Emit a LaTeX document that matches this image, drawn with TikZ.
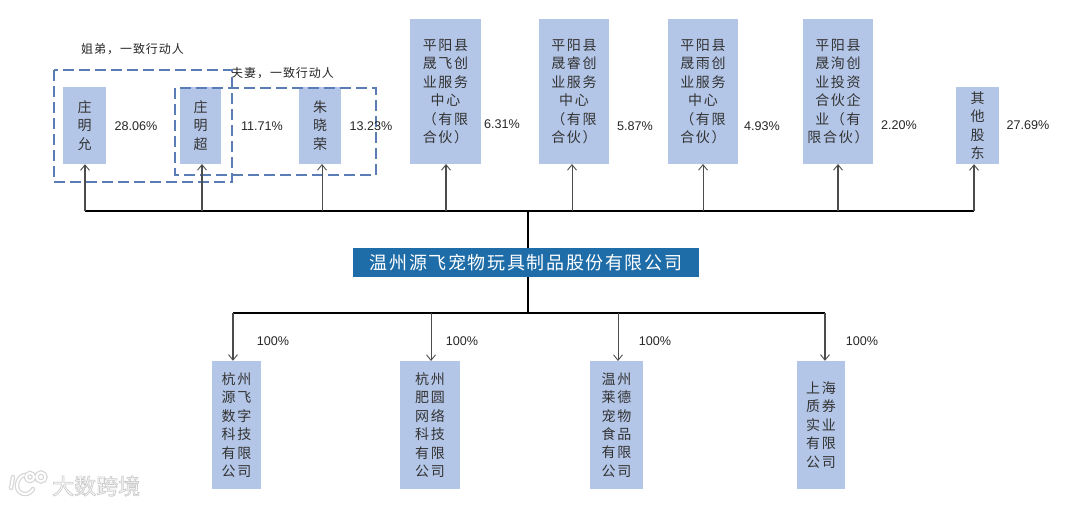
\documentclass[tikz,border=0pt]{standalone}
\usepackage{fontspec}
\setmainfont{Liberation Sans}
\newfontfamily\cjk{Noto Sans CJK SC}
\newfontfamily\cjkbody[LetterSpace=12]{Noto Sans CJK SC}
\newfontfamily\cjkhead[LetterSpace=9]{Noto Sans CJK SC}
\newfontfamily\cjknote[LetterSpace=8]{Noto Sans CJK SC}
\usetikzlibrary{arrows.meta}
\definecolor{boxblue}{HTML}{B4C6E7}
\definecolor{headblue}{HTML}{1F6DA8}
\definecolor{dashblue}{HTML}{5B7DB5}
\tikzset{
 x=1pt,y=-1pt,
 entity/.style={fill=boxblue,draw=none,inner sep=0pt,align=center,font=\cjkbody\fontsize{14}{18.4}\selectfont,text=black!80},
 head/.style={fill=headblue,draw=none,inner sep=0pt,font=\cjkhead\fontsize{18}{20}\selectfont,text=white},
 pct/.style={inner sep=0pt,font=\fontsize{12.6}{15}\selectfont,text=black!85},
 note/.style={inner sep=0pt,anchor=west,font=\cjknote\fontsize{12}{13}\selectfont,text=black!85},
 dashbox/.style={draw=dashblue,line width=1.5pt,dash pattern=on 11pt off 5pt},
 bus/.style={draw=black,line width=1.6pt},
 link/.style={draw=black!70,line width=1.1pt,-{Straight Barb[length=5.5pt,width=9pt,line width=.9pt]}},
 thinlink/.style={link,line width=.8pt},
 wmtext/.style={inner sep=0pt,anchor=west,font=\cjk\fontsize{22}{24}\selectfont,text=white},
}
\newcommand{\ebox}[6]{\node[entity,minimum width=#4-#3,minimum height=#6-#5] (#1) at ({(#3+#4)/2},{(#5+#6)/2}) {#2};}
\newcommand{\logopath}{(13,477) -- (11,488) (24,475) .. controls (15,478) and (14,494) .. (25,494) .. controls (29,494) and (31,492) .. (33,489) (30,477) circle (4) (41,477) circle (4.5)}
\begin{document}
\begin{tikzpicture}
\useasboundingbox (0,0) rectangle (1080,505);
\fill[white] (0,0) rectangle (1080,505);
% boxes
\ebox{a}{庄\\明\\允}{63}{106}{87}{164}
\ebox{b}{庄\\明\\超}{180}{221}{87}{164}
\ebox{c}{朱\\晓\\荣}{299}{341}{87}{164}
\ebox{d}{平阳县\\晟飞创\\业服务\\中心\\（有限\\合伙）}{410}{481}{19}{164}
\ebox{e}{平阳县\\晟睿创\\业服务\\中心\\（有限\\合伙）}{539}{609}{19}{164}
\ebox{f}{平阳县\\晟雨创\\业服务\\中心\\（有限\\合伙）}{668}{738}{19}{164}
\ebox{g}{平阳县\\晟洵创\\业投资\\合伙企\\业（有\\限合伙）}{803}{873}{19}{164}
\ebox{h}{其\\他\\股\\东}{956}{999}{87}{164}
\node[head,minimum width=346,minimum height=29] (m) at (526,262.5) {温州源飞宠物玩具制品股份有限公司};
\ebox{p}{杭州\\源飞\\数字\\科技\\有限\\公司}{212}{261}{361}{489}
\ebox{q}{杭州\\肥圆\\网络\\科技\\有限\\公司}{400}{460}{361}{489}
\ebox{r}{温州\\莱德\\宠物\\食品\\有限\\公司}{590}{643}{361}{489}
\ebox{s}{上海\\质券\\实业\\有限\\公司}{797}{845}{361}{489}
% notes
\node[note] (n1) at (81,49) {姐弟，一致行动人};
\node[note] (n2) at (231,73) {夫妻，一致行动人};
% dashed groups
\draw[dashbox] (54,70) rectangle (232,182);
\draw[dashbox] (175,88) rectangle (376,175);
% bus coordinates
\coordinate (top) at (528,211);
\coordinate (bot) at (528,313);
\coordinate (tl) at (85,211);
\coordinate (tr) at (974,211);
\coordinate (bl) at (233,313);
\coordinate (br) at (825,313);
\draw[bus] (tl) -- (tr);
\draw[bus] (top) -- (top|-m.north);
\draw[bus] (bot|-m.south) -- (bot);
\draw[bus] (bl) -- (br);
% up links
\draw[link] (tl) -- (tl|-a.south);
\draw[link] (202,211) -- (202,164);
\draw[thinlink] (322,211) -- (322,164);
\draw[link] (446,211) -- (446,164);
\draw[thinlink] (572,211) -- (572,164);
\draw[thinlink] (703,211) -- (703,164);
\draw[link] (838,211) -- (838,164);
\draw[link] (tr) -- (tr|-h.south);
% down links
\draw[link] (bl) -- (bl|-p.north);
\draw[thinlink] (431,313) -- (431,361);
\draw[thinlink] (618,313) -- (618,361);
\draw[link] (br) -- (br|-s.north);
% percentages
\node[pct] (p1) at (136,126) {28.06\%};
\node[pct] (p2) at (262,126) {11.71\%};
\node[pct] (p3) at (371,126) {13.23\%};
\node[pct] (p4) at (502,124) {6.31\%};
\node[pct] (p5) at (635,126) {5.87\%};
\node[pct] (p6) at (762,126) {4.93\%};
\node[pct] (p7) at (899,125) {2.20\%};
\node[pct] (p8) at (1028,125) {27.69\%};
\node[pct] (s1) at (273,341) {100\%};
\node[pct] (s2) at (462,341) {100\%};
\node[pct] (s3) at (655,341) {100\%};
\node[pct] (s4) at (862,341) {100\%};
% watermark
\node[wmtext] (wm) at (52,486) {\special{pdf:code q 2 Tr 0.7 w 0.8 G}大数跨境\special{pdf:code Q}};
\draw[black!16,line width=4.4pt,line cap=round] \logopath;
\draw[white,line width=2pt,line cap=round] \logopath;
\end{tikzpicture}
\end{document}
